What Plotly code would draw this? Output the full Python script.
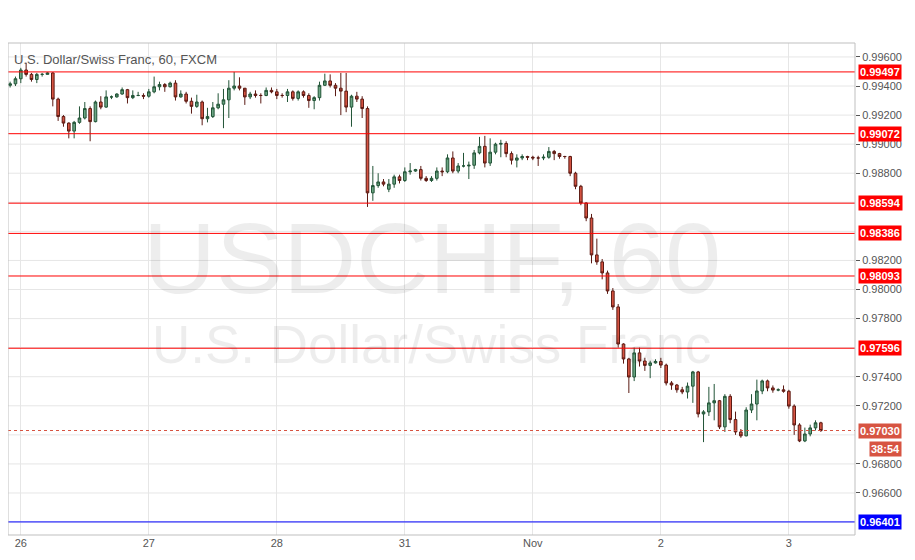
import plotly.graph_objects as go

O = [0.99405,0.99415,0.9945,0.9951,0.9948,0.99445,0.9948,0.9948,0.9949,0.9931,
     0.9919,0.99145,0.9909,0.9915,0.9918,0.99245,0.99155,0.9929,0.99255,0.99325,
     0.99325,0.99345,0.99375,0.9932,0.99335,0.99335,0.9933,0.9936,0.99395,0.9941,
     0.99395,0.9942,0.99325,0.99345,0.99295,0.9926,0.9929,0.99175,0.9919,0.9925,
     0.99275,0.99305,0.99385,0.994,0.99385,0.99325,0.99345,0.99335,0.99335,0.9937,
     0.9936,0.99335,0.99335,0.9936,0.99315,0.9936,0.99335,0.993,0.9932,0.99405,
     0.99435,0.99405,0.99385,0.99365,0.99255,0.9933,0.9931,0.99245,0.98665,0.98715,
     0.9874,0.9869,0.98725,0.98775,0.9875,0.9881,0.98815,0.98825,0.98765,0.9875,
     0.98765,0.98815,0.9881,0.98905,0.98815,0.9885,0.9885,0.98855,0.9894,0.98985,
     0.9887,0.98945,0.99,0.99005,0.98935,0.9889,0.98905,0.98915,0.9891,0.98905,
     0.98905,0.9891,0.9895,0.98935,0.98915,0.98915,0.988,0.9871,0.98595,0.98492,
     0.98238,0.9819,0.98114,0.9799,0.9788,0.97625,0.97522,0.97398,0.97564,0.97508,
     0.97478,0.97495,0.97505,0.9748,0.97357,0.97343,0.9731,0.97295,0.97335,0.97433,
     0.97144,0.97158,0.9722,0.97235,0.97055,0.97265,0.97105,0.9702,0.96993,0.97171,
     0.97212,0.97302,0.97371,0.97323,0.97308,0.9731,0.973,0.97198,0.97068,0.96958,
     0.97006,0.97048,0.97083]
H = [0.9943,0.99465,0.99525,0.9956,0.9949,0.9949,0.9949,0.99495,0.99495,0.9932,
     0.992,0.9915,0.9916,0.9926,0.9929,0.9926,0.993,0.9933,0.9937,0.99335,
     0.9935,0.9939,0.9938,0.9937,0.9936,0.9935,0.9938,0.99465,0.9943,0.9942,
     0.9943,0.9944,0.9937,0.9936,0.9932,0.9934,0.993,0.9925,0.9929,0.9935,
     0.9938,0.9944,0.99497,0.9946,0.9936,0.9936,0.9937,0.9935,0.9939,0.9939,
     0.9938,0.9935,0.9938,0.9937,0.9937,0.9937,0.9935,0.9933,0.9943,0.99485,
     0.9948,0.9942,0.9949,0.9949,0.9934,0.9936,0.9933,0.9926,0.9885,0.988,
     0.9876,0.9876,0.9879,0.9879,0.9884,0.9887,0.9883,0.9885,0.9878,0.9878,
     0.9884,0.9884,0.9893,0.9895,0.9887,0.9894,0.9888,0.9896,0.9905,0.99057,
     0.9904,0.9901,0.9903,0.9902,0.9895,0.9893,0.9893,0.9892,0.9892,0.9892,
     0.9893,0.9898,0.9896,0.9894,0.9892,0.9892,0.9881,0.9872,0.986,0.9852,
     0.9835,0.9821,0.9813,0.9801,0.979,0.9763,0.9753,0.976,0.976,0.9753,
     0.9751,0.9752,0.9753,0.9749,0.9737,0.9735,0.9733,0.9736,0.9744,0.9744,
     0.9717,0.9733,0.9735,0.9724,0.9728,0.9728,0.9716,0.9704,0.9719,0.9728,
     0.9738,0.9738,0.9738,0.9734,0.9732,0.9734,0.9731,0.9721,0.9708,0.9705,
     0.9707,0.971,0.9709]
L = [0.9939,0.994,0.9942,0.99465,0.9943,0.9942,0.99465,0.9948,0.9926,0.9916,
     0.9912,0.9904,0.9904,0.9914,0.9917,0.9902,0.9915,0.9924,0.9925,0.9931,
     0.9932,0.9934,0.9928,0.9931,0.9933,0.9931,0.9932,0.9935,0.9937,0.9936,
     0.9939,0.993,0.9932,0.9928,0.9921,0.9925,0.9913,0.9915,0.9918,0.9924,
     0.9911,0.9918,0.9937,0.9937,0.9927,0.9931,0.9932,0.9928,0.9933,0.9935,
     0.9931,0.9932,0.9929,0.993,0.993,0.9932,0.9925,0.9924,0.993,0.994,
     0.9939,0.9933,0.992,0.9922,0.9912,0.9929,0.9918,0.98568,0.9861,0.987,
     0.9871,0.9867,0.987,0.9873,0.9874,0.9879,0.9881,0.9875,0.9874,0.9874,
     0.9875,0.9878,0.988,0.988,0.988,0.9884,0.9876,0.9883,0.9893,0.9884,
     0.9885,0.9893,0.9891,0.9891,0.9886,0.9884,0.9889,0.9889,0.9889,0.9885,
     0.9889,0.989,0.9889,0.989,0.989,0.9878,0.9869,0.9858,0.9847,0.9818,
     0.9817,0.9807,0.9797,0.9786,0.976,0.9749,0.97288,0.9737,0.9747,0.9744,
     0.9739,0.9749,0.9746,0.9734,0.9731,0.9729,0.9728,0.9725,0.9722,0.9712,
     0.9695,0.9713,0.971,0.9704,0.9702,0.9708,0.97,0.9698,0.9699,0.9715,
     0.971,0.9728,0.973,0.9729,0.973,0.9729,0.9718,0.97,0.9695,0.9695,
     0.9699,0.9703,0.9702]
C = [0.99415,0.9945,0.9951,0.9948,0.99445,0.9948,0.9948,0.9949,0.9931,0.9919,
     0.99145,0.9909,0.9915,0.9918,0.99245,0.99155,0.9929,0.99255,0.99325,0.99325,
     0.99345,0.99375,0.9932,0.99335,0.99335,0.9933,0.9936,0.99395,0.9941,0.99395,
     0.9942,0.99325,0.99345,0.99295,0.9926,0.9929,0.99175,0.9919,0.9925,0.99275,
     0.99305,0.99385,0.994,0.99385,0.99325,0.99345,0.99335,0.99335,0.9937,0.9936,
     0.99335,0.99335,0.9936,0.99315,0.9936,0.99335,0.993,0.9932,0.99405,0.99435,
     0.99405,0.99385,0.99365,0.99255,0.9933,0.9931,0.99245,0.98665,0.98715,0.9874,
     0.98725,0.98725,0.98775,0.9875,0.9881,0.98815,0.98825,0.98765,0.9875,0.98765,
     0.98815,0.9881,0.98905,0.98815,0.9885,0.9885,0.98855,0.9894,0.98985,0.9887,
     0.98945,0.99,0.99005,0.98935,0.9889,0.98905,0.98915,0.9891,0.98905,0.98905,
     0.9891,0.9895,0.98935,0.98915,0.98915,0.988,0.9871,0.98595,0.98492,0.98238,
     0.9819,0.98114,0.9799,0.9788,0.97625,0.97522,0.97398,0.97564,0.97508,0.97478,
     0.97495,0.97505,0.9748,0.97357,0.97343,0.9731,0.97295,0.97335,0.97433,0.97144,
     0.97158,0.9722,0.97235,0.97055,0.97265,0.97105,0.9702,0.96993,0.97171,0.97212,
     0.97302,0.97371,0.97323,0.97308,0.9731,0.973,0.97198,0.97068,0.96958,0.97006,
     0.97048,0.97083,0.9703]

x_tick_pos = [2, 26, 50, 74, 98, 122, 146]
x_tick_text = ["26", "27", "28", "31", "Nov", "2", "3"]
y_ticks = [0.966, 0.968, 0.972, 0.974, 0.978, 0.980, 0.982, 0.988, 0.990, 0.992, 0.994, 0.996]
y_grid = [0.964, 0.966, 0.968, 0.970, 0.972, 0.974, 0.976, 0.978, 0.980, 0.982, 0.984,
          0.986, 0.988, 0.990, 0.992, 0.994, 0.996]
red_levels = [0.99497, 0.99072, 0.98594, 0.98386, 0.98093, 0.97596]
blue_level = 0.96401
last_price = 0.97030
countdown = "38:54"

idx = list(range(len(C)))
fig = go.Figure(go.Candlestick(
    x=idx, open=O, high=H, low=L, close=C,
    increasing=dict(fillcolor="#6ba583", line=dict(color="#225437", width=1)),
    decreasing=dict(fillcolor="#d75442", line=dict(color="#5b1a13", width=1)),
    whiskerwidth=0, showlegend=False, hoverinfo="skip"))

shapes = []
for g in y_grid:
    shapes.append(dict(type="line", xref="paper", x0=0, x1=1, yref="y", y0=g, y1=g,
                       line=dict(color="#e6e6e6", width=1), layer="below"))
for lv in red_levels:
    shapes.append(dict(type="line", xref="paper", x0=0, x1=1, yref="y", y0=lv, y1=lv,
                       line=dict(color="#ff0000", width=1), layer="above"))
shapes.append(dict(type="line", xref="paper", x0=0, x1=1, yref="y", y0=blue_level, y1=blue_level,
                   line=dict(color="#0000ff", width=1), layer="above"))
shapes.append(dict(type="line", xref="paper", x0=0, x1=1, yref="y", y0=last_price, y1=last_price,
                   line=dict(color="#d75442", width=1, dash="dot"), layer="above"))
shapes.append(dict(type="rect", xref="paper", yref="paper", x0=0, x1=1, y0=0, y1=1,
                   line=dict(color="#bfbfbf", width=1)))

lab_font = dict(color="white", size=11, family="Arial")
ann = []
for lv in red_levels:
    ann.append(dict(x=1, xref="paper", y=lv, yref="y", xanchor="left", xshift=3,
                    text=f"<b>{lv:.5f}</b>", showarrow=False, bgcolor="#ff0000",
                    font=lab_font, borderpad=1))
ann.append(dict(x=1, xref="paper", y=blue_level, yref="y", xanchor="left", xshift=3,
                text=f"<b>{blue_level:.5f}</b>", showarrow=False, bgcolor="#0000ff",
                font=lab_font, borderpad=1))
ann.append(dict(x=1, xref="paper", y=last_price, yref="y", xanchor="left", xshift=3,
                text=f"<b>{last_price:.5f}</b>", showarrow=False, bgcolor="#d75442",
                font=lab_font, borderpad=1))
ann.append(dict(x=1, xref="paper", y=last_price, yref="y", xanchor="left", xshift=14, yshift=-18,
                text=f"<b>{countdown}</b>", showarrow=False, bgcolor="#d75442",
                font=lab_font, borderpad=1))
ann.append(dict(x=0.5, xref="paper", y=0.98217, yref="y", text="USDCHF, 60", showarrow=False,
                font=dict(size=101, color="rgba(0,0,0,0.07)", family="Arial")))
ann.append(dict(x=0.5, xref="paper", y=0.97619, yref="y", text="U.S. Dollar/Swiss Franc", showarrow=False,
                font=dict(size=53, color="rgba(0,0,0,0.07)", family="Arial")))
ann.append(dict(x=0.005, xref="paper", y=0.985, yref="paper", xanchor="left", yanchor="top",
                text="U.S. Dollar/Swiss Franc, 60, FXCM", showarrow=False,
                font=dict(size=13, color="#555555", family="Arial")))

fig.update_layout(
    width=907, height=552, margin=dict(l=0, r=60, t=35, b=25, autoexpand=False),
    paper_bgcolor="white", plot_bgcolor="white",
    shapes=shapes, annotations=ann,
    xaxis=dict(range=[-0.4, 158.4], tickvals=x_tick_pos, ticktext=x_tick_text,
               showgrid=True, gridcolor="#e6e6e6", rangeslider=dict(visible=False),
               tickfont=dict(size=11, color="#555555", family="Arial"), zeroline=False,
               ticks="", showline=False, automargin=False),
    yaxis=dict(side="right", range=[0.96311, 0.99696], tickvals=y_ticks, tickformat=".5f",
               showgrid=False, zeroline=False, automargin=False,
               tickfont=dict(size=11, color="#555555", family="Arial"), ticks="outside",
               ticklen=4, tickcolor="#555555"),
)
fig.write_html("out.html")
